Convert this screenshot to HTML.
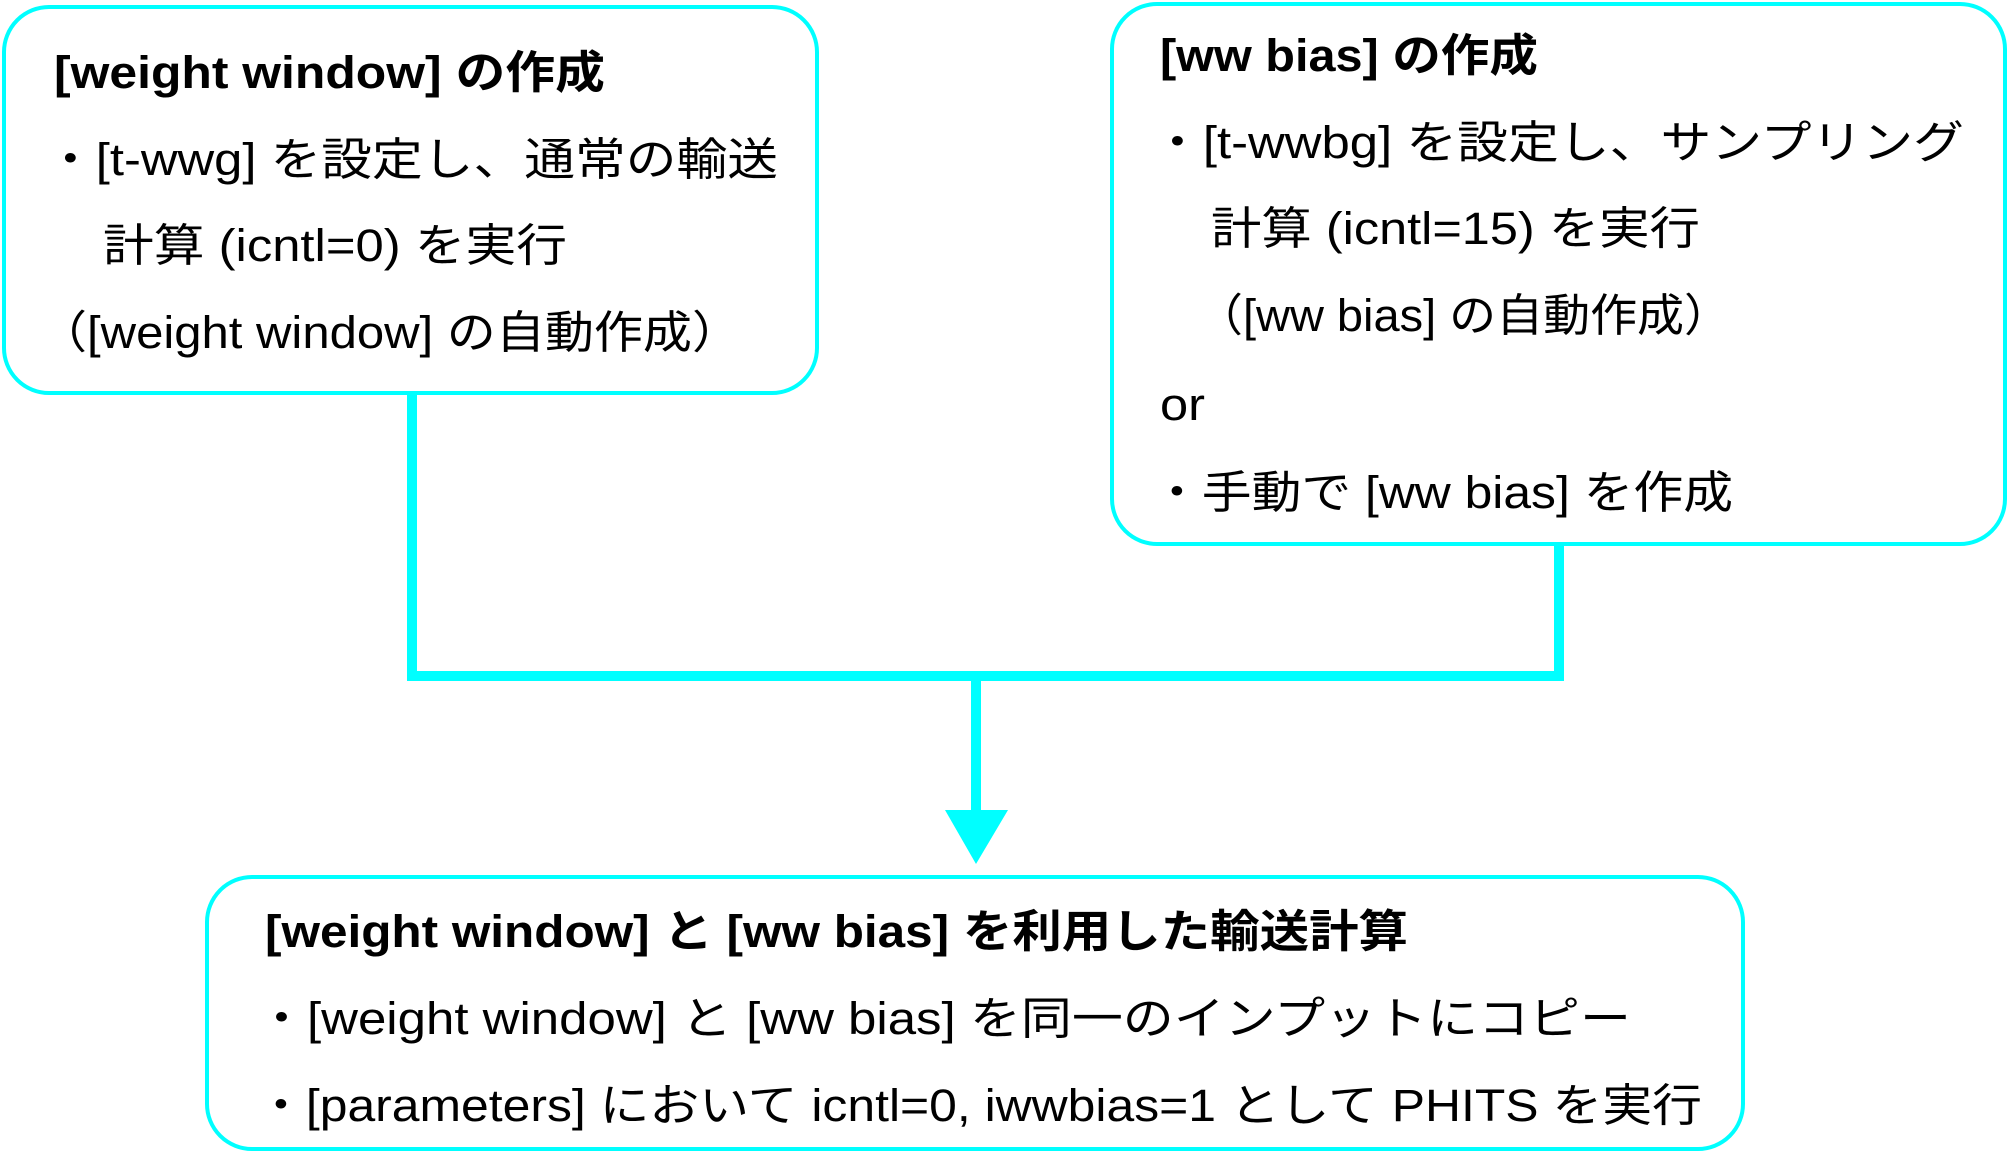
<!DOCTYPE html>
<html><head><meta charset="utf-8"><style>html,body{margin:0;padding:0;background:#fff}svg{display:block}</style></head>
<body>
<svg width="2010" height="1154" viewBox="0 0 2010 1154" xmlns="http://www.w3.org/2000/svg" font-family="'Liberation Sans','Noto Sans CJK JP',sans-serif" font-size="45" fill="#000">
<g fill="none" stroke="#00ffff">
<rect x="4" y="7" width="813" height="386" rx="45" stroke-width="4"/>
<rect x="1112" y="4" width="893" height="540" rx="45" stroke-width="4"/>
<rect x="207" y="877" width="1536" height="272" rx="45" stroke-width="4"/>
<polyline points="412,394 412,676 1559,676 1559,545" stroke-width="10"/>
<line x1="976" y1="676" x2="976" y2="815" stroke-width="10"/>
</g>
<polygon points="945,810 1008,810 976,864" fill="#00ffff"/>
<text x="54" y="88" font-weight="bold" textLength="551" lengthAdjust="spacingAndGlyphs">[weight window] の作成</text>
<text x="45" y="175" textLength="733" lengthAdjust="spacingAndGlyphs">・[t-wwg] を設定し、通常の輸送</text>
<text x="103" y="261" textLength="464" lengthAdjust="spacingAndGlyphs">計算 (icntl=0) を実行</text>
<text x="38" y="348" textLength="703" lengthAdjust="spacingAndGlyphs">（[weight window] の自動作成）</text>

<text x="1160" y="71" font-weight="bold" textLength="378" lengthAdjust="spacingAndGlyphs">[ww bias] の作成</text>
<text x="1152" y="158" textLength="812" lengthAdjust="spacingAndGlyphs">・[t-wwbg] を設定し、サンプリング</text>
<text x="1211" y="244" textLength="489" lengthAdjust="spacingAndGlyphs">計算 (icntl=15) を実行</text>
<text x="1196" y="331" textLength="535" lengthAdjust="spacingAndGlyphs">（[ww bias] の自動作成）</text>
<text x="1160" y="420" textLength="45" lengthAdjust="spacingAndGlyphs">or</text>
<text x="1152" y="508" textLength="581" lengthAdjust="spacingAndGlyphs">・手動で [ww bias] を作成</text>

<text x="265" y="947" font-weight="bold" textLength="1143" lengthAdjust="spacingAndGlyphs">[weight window] と [ww bias] を利用した輸送計算</text>
<text x="256" y="1034" textLength="1375" lengthAdjust="spacingAndGlyphs">・[weight window] と [ww bias] を同一のインプットにコピー</text>
<text x="256" y="1121" textLength="1446" lengthAdjust="spacingAndGlyphs">・[parameters] において icntl=0, iwwbias=1 として PHITS を実行</text>
</svg>
</body></html>
